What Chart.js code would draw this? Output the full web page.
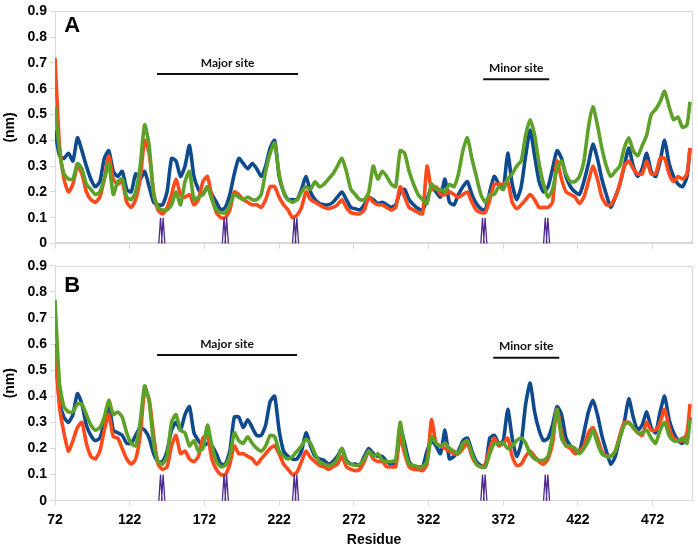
<!DOCTYPE html>
<html><head><meta charset="utf-8">
<script src="https://cdn.jsdelivr.net/npm/chart.js@4/dist/chart.umd.min.js"></script>
<style>
html,body{margin:0;padding:0;background:#fff;}
#wrap{position:relative;width:698px;height:549px;overflow:hidden;background:#fff;}
canvas{position:absolute;left:0;}
#cA{top:0;width:698px;height:262px;}
#cB{top:250px;width:698px;height:299px;}
</style></head><body>
<div id="wrap"><canvas id="cB" width="698" height="299"></canvas><canvas id="cA" width="698" height="262"></canvas></div>
<script>
const residues = [72,75,78,81,84,87,90,93,96,99,
102,105,108,111,114,117,120,123,126,129,
132,135,138,141,144,147,150,153,156,159,
162,165,168,171,174,177,180,183,186,189,
192,195,198,201,204,207,210,213,216,219,
222,225,228,231,234,237,240,243,246,249,
252,255,258,261,264,267,270,273,276,279,
282,285,288,291,294,297,300,303,306,309,
312,315,318,321,324,327,330,333,336,339,
342,345,348,351,354,357,360,363,366,369,
372,375,378,381,384,387,390,393,396,399,
402,405,408,411,414,417,420,423,426,429,
432,435,438,441,444,447,450,453,456,459,
462,465,468,471,474,477,480,483,486,489,
492,495,497];

const aBlue = [0.44,0.34,0.33,0.35,0.32,0.41,0.36,0.30,0.25,0.22,
0.24,0.33,0.36,0.28,0.26,0.28,0.21,0.20,0.27,0.25,
0.28,0.22,0.16,0.15,0.15,0.20,0.33,0.32,0.26,0.30,
0.38,0.26,0.21,0.19,0.22,0.19,0.16,0.13,0.14,0.19,
0.27,0.33,0.31,0.29,0.31,0.29,0.26,0.30,0.37,0.40,
0.26,0.20,0.17,0.17,0.17,0.21,0.26,0.20,0.17,0.155,
0.15,0.15,0.16,0.18,0.20,0.17,0.14,0.135,0.13,0.15,
0.18,0.17,0.155,0.16,0.15,0.14,0.15,0.20,0.21,0.17,
0.15,0.135,0.13,0.17,0.22,0.20,0.18,0.25,0.16,0.15,
0.19,0.22,0.24,0.19,0.155,0.135,0.13,0.20,0.26,0.23,
0.21,0.35,0.23,0.17,0.22,0.34,0.44,0.34,0.24,0.20,
0.22,0.29,0.36,0.33,0.26,0.22,0.20,0.19,0.24,0.31,
0.385,0.33,0.25,0.19,0.14,0.18,0.23,0.30,0.37,0.30,
0.26,0.29,0.35,0.28,0.26,0.32,0.40,0.31,0.26,0.23,
0.22,0.26,0.37];

const aRed = [0.72,0.38,0.25,0.20,0.23,0.30,0.27,0.20,0.17,0.16,
0.18,0.25,0.34,0.25,0.23,0.24,0.16,0.14,0.17,0.25,
0.40,0.35,0.20,0.13,0.115,0.14,0.19,0.25,0.19,0.18,
0.19,0.15,0.17,0.24,0.26,0.18,0.12,0.10,0.10,0.13,
0.20,0.19,0.17,0.16,0.15,0.15,0.14,0.17,0.22,0.22,
0.18,0.15,0.13,0.10,0.11,0.14,0.20,0.17,0.16,0.15,
0.14,0.135,0.14,0.15,0.17,0.14,0.12,0.115,0.115,0.13,
0.18,0.16,0.15,0.15,0.14,0.13,0.14,0.22,0.18,0.14,
0.13,0.12,0.115,0.30,0.21,0.22,0.19,0.19,0.20,0.19,
0.18,0.19,0.20,0.16,0.13,0.12,0.12,0.17,0.23,0.23,
0.23,0.24,0.16,0.135,0.15,0.17,0.19,0.17,0.14,0.14,
0.14,0.16,0.32,0.25,0.20,0.19,0.18,0.155,0.18,0.24,
0.30,0.25,0.18,0.15,0.15,0.18,0.23,0.30,0.32,0.29,
0.27,0.27,0.32,0.27,0.27,0.33,0.33,0.27,0.24,0.26,
0.25,0.27,0.37];

const aGreen = [0.53,0.36,0.27,0.25,0.25,0.31,0.29,0.23,0.21,0.19,
0.20,0.25,0.31,0.19,0.24,0.25,0.18,0.17,0.20,0.30,
0.46,0.38,0.19,0.14,0.13,0.13,0.15,0.20,0.15,0.24,
0.28,0.17,0.18,0.19,0.22,0.17,0.13,0.12,0.12,0.15,
0.19,0.18,0.17,0.18,0.17,0.17,0.19,0.28,0.35,0.39,
0.27,0.20,0.17,0.16,0.17,0.20,0.22,0.21,0.24,0.22,
0.23,0.25,0.27,0.30,0.33,0.28,0.21,0.19,0.17,0.17,
0.20,0.30,0.25,0.28,0.26,0.23,0.22,0.36,0.35,0.28,
0.23,0.19,0.17,0.155,0.23,0.21,0.21,0.20,0.23,0.22,
0.27,0.36,0.41,0.33,0.26,0.19,0.16,0.19,0.19,0.22,
0.21,0.25,0.27,0.30,0.32,0.42,0.48,0.42,0.31,0.23,
0.18,0.21,0.29,0.32,0.27,0.24,0.24,0.26,0.32,0.45,
0.53,0.46,0.37,0.30,0.26,0.28,0.30,0.37,0.41,0.36,
0.34,0.38,0.42,0.50,0.52,0.55,0.59,0.53,0.48,0.49,
0.45,0.46,0.55];

const bBlue = [0.60,0.38,0.32,0.30,0.33,0.41,0.37,0.29,0.25,0.23,
0.24,0.30,0.37,0.27,0.26,0.25,0.22,0.22,0.25,0.28,
0.27,0.24,0.18,0.15,0.15,0.19,0.27,0.30,0.27,0.33,
0.36,0.26,0.23,0.21,0.22,0.21,0.18,0.14,0.14,0.19,
0.32,0.32,0.28,0.31,0.28,0.25,0.25,0.29,0.38,0.40,
0.27,0.19,0.17,0.16,0.16,0.19,0.26,0.21,0.17,0.16,
0.155,0.14,0.15,0.17,0.20,0.155,0.14,0.14,0.135,0.17,
0.20,0.18,0.17,0.17,0.15,0.14,0.14,0.28,0.22,0.15,
0.13,0.13,0.13,0.19,0.23,0.21,0.18,0.27,0.16,0.17,
0.19,0.23,0.24,0.19,0.15,0.135,0.13,0.24,0.25,0.22,
0.23,0.35,0.24,0.17,0.22,0.37,0.45,0.34,0.27,0.23,
0.24,0.29,0.36,0.33,0.24,0.21,0.19,0.19,0.26,0.34,
0.385,0.33,0.25,0.19,0.14,0.17,0.24,0.30,0.39,0.32,
0.27,0.29,0.34,0.28,0.26,0.34,0.40,0.31,0.26,0.23,
0.22,0.25,0.32];

const bRed = [0.59,0.36,0.26,0.19,0.23,0.28,0.30,0.22,0.17,0.16,
0.19,0.27,0.33,0.245,0.24,0.20,0.16,0.14,0.16,0.25,
0.42,0.39,0.25,0.14,0.12,0.13,0.21,0.25,0.18,0.19,
0.16,0.15,0.17,0.24,0.25,0.16,0.12,0.10,0.10,0.14,
0.21,0.18,0.18,0.17,0.16,0.14,0.16,0.18,0.20,0.21,
0.18,0.14,0.12,0.10,0.11,0.15,0.19,0.165,0.15,0.135,
0.13,0.12,0.13,0.14,0.17,0.13,0.12,0.115,0.12,0.15,
0.19,0.16,0.15,0.15,0.13,0.13,0.13,0.245,0.18,0.13,
0.12,0.12,0.115,0.14,0.31,0.22,0.21,0.20,0.19,0.18,
0.18,0.20,0.22,0.17,0.14,0.13,0.14,0.20,0.24,0.21,
0.22,0.24,0.17,0.135,0.14,0.17,0.19,0.17,0.15,0.14,
0.16,0.22,0.35,0.26,0.21,0.20,0.18,0.19,0.21,0.26,
0.28,0.24,0.19,0.17,0.17,0.19,0.25,0.30,0.30,0.28,
0.26,0.25,0.30,0.27,0.27,0.30,0.35,0.28,0.24,0.23,
0.23,0.26,0.37];

const bGreen = [0.77,0.45,0.36,0.34,0.34,0.37,0.37,0.33,0.29,0.27,
0.28,0.32,0.385,0.33,0.34,0.32,0.26,0.22,0.21,0.30,
0.44,0.38,0.22,0.15,0.14,0.17,0.30,0.33,0.27,0.26,
0.21,0.23,0.19,0.20,0.29,0.21,0.15,0.13,0.135,0.17,
0.26,0.23,0.22,0.245,0.22,0.20,0.19,0.21,0.25,0.245,
0.19,0.17,0.16,0.17,0.19,0.21,0.235,0.22,0.18,0.15,
0.14,0.135,0.14,0.16,0.20,0.15,0.14,0.135,0.14,0.16,
0.19,0.17,0.18,0.155,0.15,0.15,0.155,0.30,0.20,0.14,
0.135,0.13,0.13,0.15,0.245,0.22,0.21,0.22,0.20,0.19,
0.18,0.22,0.23,0.18,0.14,0.13,0.13,0.18,0.22,0.22,
0.22,0.20,0.21,0.23,0.24,0.22,0.18,0.16,0.155,0.155,
0.17,0.25,0.35,0.24,0.21,0.21,0.20,0.18,0.20,0.23,
0.27,0.22,0.18,0.17,0.17,0.19,0.24,0.29,0.30,0.28,
0.26,0.26,0.27,0.24,0.22,0.27,0.30,0.25,0.23,0.23,
0.24,0.22,0.31];

const xTicks = [72,122,172,222,272,322,372,422,472];
const xTickLabels = ['72','122','172','222','272','322','372','422','472'];
const yTicks = [0,0.1,0.2,0.3,0.4,0.5,0.6,0.7,0.8,0.9];
const yTickLabels = ['0','0.1','0.2','0.3','0.4','0.5','0.6','0.7','0.8','0.9'];

// binding-site annotations (residue ranges and level on the y scale)
const siteNames = ['Major site','Minor site'];
const siteStartA = [140.3, 358.6], siteEndA = [234.7, 402.8], siteLevelA = [0.657, 0.637];
const siteStartB = [140.3, 365.3], siteEndB = [234.0, 409.5], siteLevelB = [0.558, 0.547];
const markerResidues = [143.5, 186, 233, 359, 401];
const markerTop = 0.1;

const FONT = 'Liberation Sans, Arial, sans-serif';
const COL_BLUE = '#0f4a8c', COL_RED = '#ff4a1c', COL_GREEN = '#5da128';

const annot = {
  id: 'annot',
  beforeDatasetsDraw(chart) {
    const {ctx, chartArea: ca} = chart;
    ctx.save();
    ctx.strokeStyle = '#d9d9d9';
    ctx.lineWidth = 1;
    ctx.strokeRect(Math.round(ca.left) + 0.5, Math.round(ca.top) + 0.5, Math.round(ca.width) - 1, Math.round(ca.height) - 1);
    ctx.restore();
  },
  afterDatasetsDraw(chart, args, o) {
    const {ctx, scales: {x, y}} = chart;
    ctx.save();
    // markers
    ctx.strokeStyle = '#4d2a8c';
    ctx.lineWidth = 1.3;
    markerResidues.forEach(r => {
      const cx = x.getPixelForValue(r);
      const t = y.getPixelForValue(markerTop), b = y.getPixelForValue(0);
      ctx.beginPath();
      ctx.moveTo(cx - 1.3, t); ctx.lineTo(cx - 3, b);
      ctx.moveTo(cx + 1.3, t); ctx.lineTo(cx + 3, b);
      ctx.moveTo(cx - 1.3, t); ctx.lineTo(cx + 0.3, b);
      ctx.moveTo(cx + 1.3, t); ctx.lineTo(cx - 0.3, b);
      ctx.stroke();
    });
    // site bars
    ctx.strokeStyle = '#111';
    ctx.fillStyle = '#111';
    ctx.lineWidth = 2;
    ctx.font = 'bold 12px Lato, ' + FONT;
    ctx.textAlign = 'center';
    ctx.textBaseline = 'alphabetic';
    siteNames.forEach((name, i) => {
      const x0 = x.getPixelForValue(o.start[i]), x1 = x.getPixelForValue(o.end[i]);
      const yy = y.getPixelForValue(o.level[i]);
      ctx.beginPath();
      ctx.moveTo(x0, yy); ctx.lineTo(x1, yy);
      ctx.stroke();
      ctx.fillText(name, (x0 + x1) / 2, yy - 7.5);
    });
    // panel letter
    ctx.font = 'bold 22px ' + FONT;
    ctx.textBaseline = 'middle';
    ctx.fillStyle = '#000';
    ctx.fillText(o.letter, x.getPixelForValue(o.letterX), y.getPixelForValue(o.letterY));
    ctx.restore();
  }
};

function makeChart(id, blue, red, green, cfg) {
  const pts = arr => residues.map((r, i) => ({x: r, y: arr[i]}));
  const ds = (label, arr, col) => ({label, data: pts(arr), borderColor: col, backgroundColor: col,
    borderWidth: 3.6, pointRadius: 0, tension: 0.2, fill: false});
  const tickFont = {family: FONT, size: 14, weight: 'bold'};
  return new Chart(document.getElementById(id), {
    type: 'line',
    data: {datasets: [ds('green', green, COL_GREEN), ds('red', red, COL_RED), ds('blue', blue, COL_BLUE)]},
    options: {
      responsive: false, animation: false, devicePixelRatio: 1,
      layout: {padding: {top: cfg.padTop, right: 5, left: 0, bottom: 0}},
      plugins: {legend: {display: false}, tooltip: {enabled: false},
        annot: {start: cfg.start, end: cfg.end, level: cfg.level, letter: cfg.letter, letterX: 83.5, letterY: cfg.letterY}},
      scales: {
        x: {type: 'linear', min: 72, max: 499,
          afterBuildTicks: s => { s.ticks = xTicks.map(v => ({value: v})); },
          afterFit: s => { s.height = cfg.xHeight; },
          ticks: {display: cfg.xLabels, autoSkip: false, maxRotation: 0, padding: 6, color: '#000', font: tickFont,
            callback: (v, i) => xTickLabels[i]},
          grid: {drawOnChartArea: false, drawTicks: true, tickLength: 5, color: '#d9d9d9'},
          border: {display: true, color: '#d9d9d9'},
          title: {display: cfg.xLabels, text: 'Residue', color: '#000', font: tickFont, padding: {top: 0, bottom: 0}}
        },
        y: {min: 0, max: 0.9,
          afterBuildTicks: s => { s.ticks = yTicks.map(v => ({value: v})); },
          afterFit: s => { s.width = 55; },
          ticks: {padding: 3, color: '#000', font: tickFont, callback: (v, i) => yTickLabels[i]},
          grid: {drawOnChartArea: false, drawTicks: true, tickLength: 5, color: '#d9d9d9'},
          border: {display: true, color: '#d9d9d9'},
          title: {display: true, text: '(nm)', color: '#000', font: tickFont, padding: {top: 2, bottom: 0}}
        }
      }
    },
    plugins: [annot]
  });
}

makeChart('cA', aBlue, aRed, aGreen, {padTop: 9.3, xHeight: 18.5, xLabels: false,
  start: siteStartA, end: siteEndA, level: siteLevelA, letter: 'A', letterY: 0.844});
makeChart('cB', bBlue, bRed, bGreen, {padTop: 15.7, xHeight: 48.3, xLabels: true,
  start: siteStartB, end: siteEndB, level: siteLevelB, letter: 'B', letterY: 0.823});
</script>
</body></html>
